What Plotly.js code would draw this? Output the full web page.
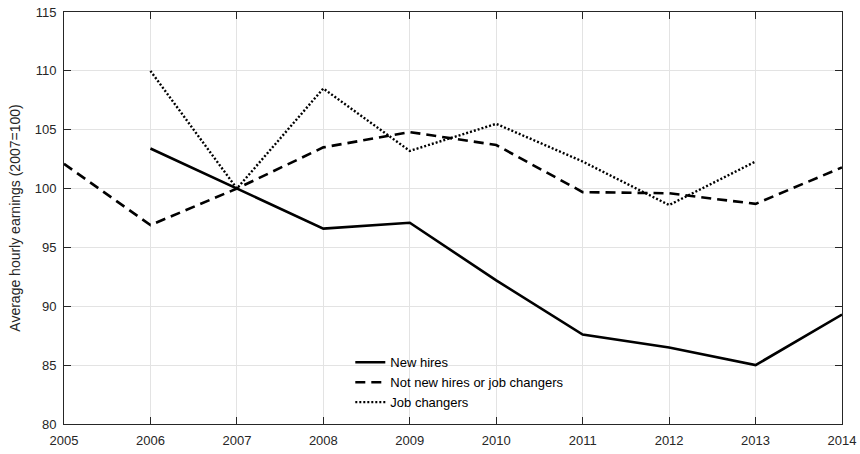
<!DOCTYPE html>
<html>
<head>
<meta charset="utf-8">
<script src="https://cdn.plot.ly/plotly-3.0.1.min.js"></script>
<style>body{margin:0;padding:0;background:#fff}#chart{width:860px;height:454px}</style>
</head>
<body>
<div id="chart"></div>
<script>
const years = [2005, 2006, 2007, 2008, 2009, 2010, 2011, 2012, 2013, 2014];
const newHires = [null, 103.4, 100.0, 96.6, 97.1, 92.2, 87.6, 86.5, 85.0, 89.3];
const notNewHires = [102.1, 96.9, 100.0, 103.5, 104.8, 103.7, 99.7, 99.6, 98.7, 101.8];
const jobChangers = [null, 110.0, 100.0, 108.5, 103.2, 105.5, 102.3, 98.6, 102.3, null];
const seriesNames = ['New hires', 'Not new hires or job changers', 'Job changers'];
const yTicks = [80, 85, 90, 95, 100, 105, 110, 115];

const traces = [
  {x: years, y: newHires, name: seriesNames[0], mode: 'lines', line: {color: '#000', width: 2.6}},
  {x: years, y: notNewHires, name: seriesNames[1], mode: 'lines', line: {color: '#000', width: 2.6, dash: '10px,6px'}},
  {x: years, y: jobChangers, name: seriesNames[2], mode: 'lines', line: {color: '#000', width: 2.4, dash: '2px,2px'}}
];

const FONT = 'Liberation Sans, Arial, sans-serif';
const axisCommon = {
  showline: true, linecolor: '#262626', linewidth: 1, mirror: 'ticks',
  ticks: 'inside', ticklen: 7, tickcolor: '#262626', tickwidth: 1,
  showgrid: true, gridcolor: '#e3e3e3', gridwidth: 1, zeroline: false,
  tickfont: {family: FONT, size: 13, color: '#262626'}
};

const layout = {
  width: 860, height: 454,
  margin: {l: 64, r: 18, t: 12, b: 30},
  paper_bgcolor: '#fff', plot_bgcolor: '#fff',
  showlegend: true,
  legend: {x: 0.368, y: 0.186, xanchor: 'left', yanchor: 'top', bgcolor: 'rgba(255,255,255,0)',
    font: {family: FONT, size: 13, color: '#000'}, tracegroupgap: 0},
  xaxis: Object.assign({}, axisCommon, {range: [2005, 2014], tickvals: years, ticktext: years.map(String), ticklabelstandoff: 4}),
  yaxis: Object.assign({}, axisCommon, {range: [80, 115], tickvals: yTicks, ticktext: yTicks.map(String), ticklabelstandoff: 4,
    title: {text: 'Average hourly earnings (2007=100)', standoff: 10,
      font: {family: FONT, size: 14, color: '#262626'}}})
};

Plotly.newPlot('chart', traces, layout, {displayModeBar: false, staticPlot: true});
</script>
</body>
</html>
